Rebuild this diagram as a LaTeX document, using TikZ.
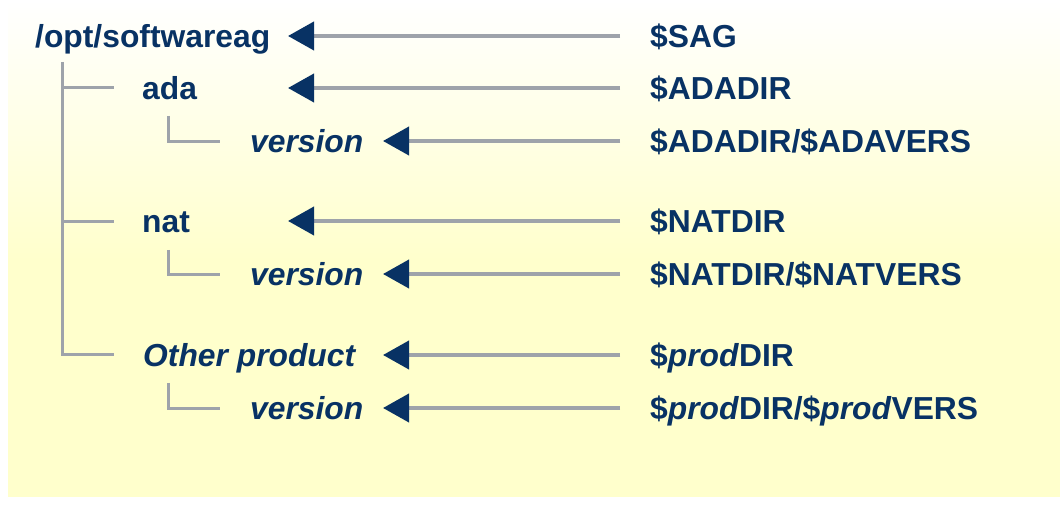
\documentclass[tikz,border=0pt]{standalone}
\usepackage{fontspec}
\setmainfont{Liberation Sans}
\usetikzlibrary{arrows.meta}
\definecolor{txtblue}{RGB}{8,50,100}
\definecolor{linegray}{RGB}{158,163,170}
\definecolor{bgyellow}{RGB}{255,255,204}
\begin{document}
\begin{tikzpicture}[x=1pt,y=-1pt,
  lbl/.style={anchor=base west,inner sep=0pt,text=txtblue,font=\fontsize{31.8}{36}\selectfont\bfseries},
  rlbl/.style={lbl,inner xsep=30pt},
  tree/.style={draw=linegray,line width=3pt,line cap=butt},
  ptr/.style={draw=linegray,line width=4pt,-{Triangle[length=26pt,width=28pt,color=txtblue]}}]
\useasboundingbox (0,0) rectangle (1060,510);
% background
\shade[top color=white,bottom color=bgyellow] (8,0) rectangle (1060,260);
\fill[bgyellow] (8,259.5) rectangle (1060,497);
% left labels
\node[lbl] (root) at (35,47.5) {/opt/softwareag};
\node[lbl] (ada) at (142,99.5) {ada};
\node[lbl] (adav) at (250,152.5) {\itshape version};
\node[lbl] (nat) at (142,232.5) {nat};
\node[lbl] (natv) at (250,285.5) {\itshape version};
\node[lbl] (oth) at (143,366.5) {\itshape Other product};
\node[lbl] (othv) at (250,419.5) {\itshape version};
% right labels
\node[rlbl] (r1) at (620,47.5) {\$SAG};
\node[rlbl] (r2) at (620,99.5) {\$ADADIR};
\node[rlbl] (r3) at (620,152.5) {\$ADADIR/\$ADAVERS};
\node[rlbl] (r4) at (620,232.5) {\$NATDIR};
\node[rlbl] (r5) at (620,285.5) {\$NATDIR/\$NATVERS};
\node[rlbl] (r6) at (620,366.5) {\$\textit{prod}DIR};
\node[rlbl] (r7) at (620,419.5) {\$\textit{prod}DIR/\$\textit{prod}VERS};
% arrow tips
\coordinate (t1) at (288,36);
\coordinate (t2) at (288,88);
\coordinate (t3) at (383,141);
\coordinate (t4) at (288,221);
\coordinate (t5) at (383,274);
\coordinate (t6) at (383,355);
\coordinate (t7) at (383,408);
\foreach \i in {1,...,7}{
  \draw[ptr] (r\i.west |- t\i) -- (t\i);
}
% tree
\coordinate (v0) at (62,62);
\coordinate (h1) at (114,88);
\coordinate (h2) at (114,222);
\coordinate (h3) at (114,355);
\draw[tree] (v0) -- (v0 |- h3) -- (h3);
\draw[tree] (v0 |- h1) -- (h1);
\draw[tree] (v0 |- h2) -- (h2);
\coordinate (s1) at (168,116);
\coordinate (e1) at (220,142);
\coordinate (s2) at (168,250);
\coordinate (e2) at (220,275);
\coordinate (s3) at (168,383);
\coordinate (e3) at (220,408);
\foreach \i in {1,2,3}{
  \draw[tree] (s\i) -- (s\i |- e\i) -- (e\i);
}
\end{tikzpicture}
\end{document}
